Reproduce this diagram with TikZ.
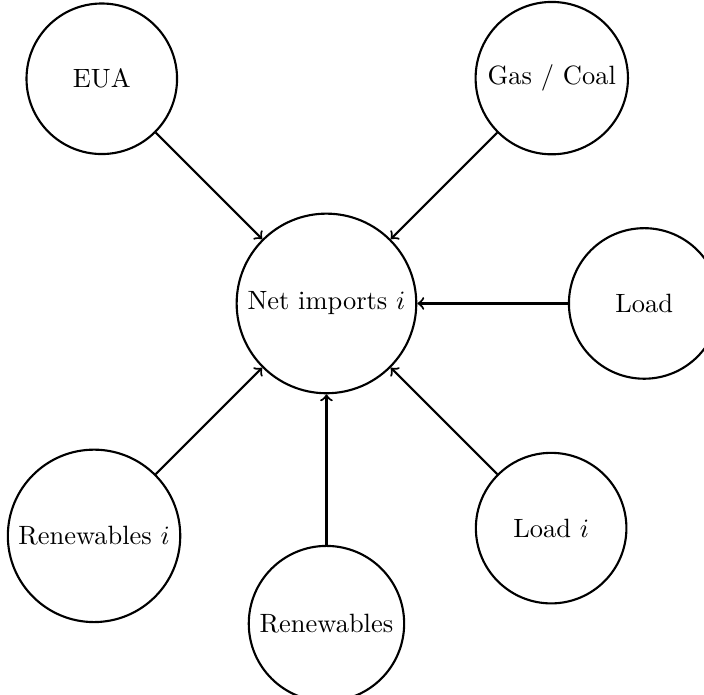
\documentclass[tikz,border=0pt]{standalone}
\usetikzlibrary{positioning}
\begin{document}
\begin{tikzpicture}[node distance=2cm, every node/.style={circle, draw, thick, minimum size=2cm}]
	\useasboundingbox (-123.4pt,-148pt) rectangle (142.7pt,114.7pt);

	\node (net) {Net imports $i$};
	\node[above left=of net] (eua) {EUA};
	\node[above right=of net] (gas) {Gas / Coal};
	\node[right=of net] (load) {Load};
	\node[below right=of net] (loadi) {Load $i$};
	\node[below=of net] (ren) {Renewables};
	\node[below left=of net] (reni) {Renewables $i$};

	\draw[->, thick] (eua) -- (net);
	\draw[->, thick] (gas) -- (net);
	\draw[->, thick] (load) -- (net);
	\draw[->, thick] (loadi) -- (net);
	\draw[->, thick] (ren) -- (net);
	\draw[->, thick] (reni) -- (net);

\end{tikzpicture}
\end{document}
